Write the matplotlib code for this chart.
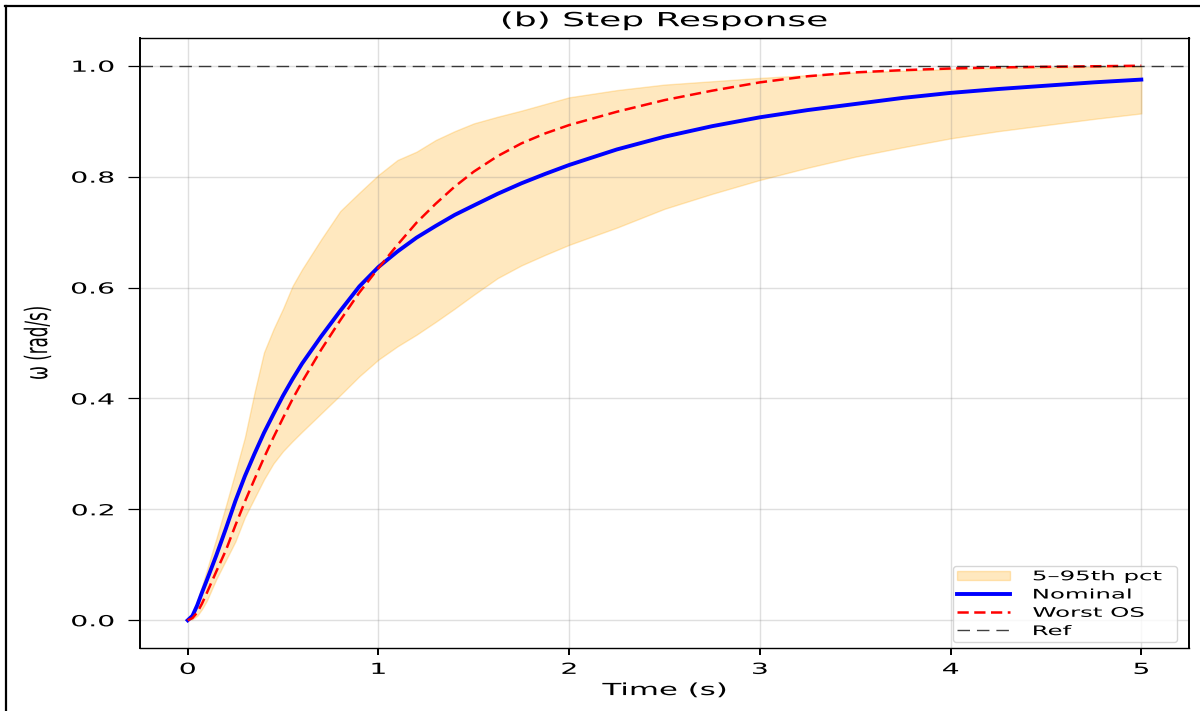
import matplotlib
matplotlib.use("Agg")
import matplotlib.pyplot as plt
from matplotlib.patheffects import AbstractPathEffect
from matplotlib.transforms import Affine2D
from matplotlib.lines import Line2D

# ---------------- data ----------------
time_s = [0.0, 0.025, 0.05, 0.075, 0.1, 0.15, 0.2, 0.25, 0.3, 0.35, 0.4, 0.45,
          0.5, 0.55, 0.6, 0.7, 0.8, 0.9, 1.0, 1.1, 1.2, 1.3, 1.4, 1.5, 1.625,
          1.75, 1.875, 2.0, 2.25, 2.5, 2.75, 3.0, 3.25, 3.5, 3.75, 4.0, 4.25,
          4.5, 4.75, 5.0]
nominal = [0.0, 0.008, 0.027, 0.05, 0.072, 0.117, 0.165, 0.215, 0.26, 0.30,
           0.338, 0.372, 0.405, 0.435, 0.463, 0.512, 0.558, 0.602, 0.637, 0.665,
           0.69, 0.711, 0.731, 0.748, 0.769, 0.788, 0.805, 0.821, 0.849, 0.872,
           0.891, 0.907, 0.92, 0.931, 0.942, 0.951, 0.958, 0.964, 0.97, 0.975]
worst_os = [0.0, 0.004, 0.014, 0.03, 0.049, 0.088, 0.126, 0.171, 0.214, 0.254,
            0.293, 0.33, 0.365, 0.399, 0.43, 0.488, 0.541, 0.591, 0.635, 0.677,
            0.717, 0.751, 0.782, 0.809, 0.837, 0.86, 0.878, 0.893, 0.917, 0.938,
            0.955, 0.970, 0.981, 0.988, 0.992, 0.995, 0.997, 0.998, 0.999, 1.0]
pct05 = [0.0, 0.002, 0.008, 0.02, 0.035, 0.074, 0.108, 0.142, 0.186, 0.22,
         0.254, 0.283, 0.305, 0.323, 0.34, 0.373, 0.406, 0.44, 0.47, 0.494,
         0.515, 0.538, 0.562, 0.587, 0.617, 0.64, 0.659, 0.677, 0.708, 0.742,
         0.769, 0.794, 0.816, 0.836, 0.853, 0.869, 0.882, 0.893, 0.904, 0.914]
pct95 = [0.0, 0.01, 0.035, 0.062, 0.09, 0.147, 0.206, 0.267, 0.33, 0.41,
         0.483, 0.525, 0.562, 0.603, 0.633, 0.687, 0.738, 0.771, 0.803, 0.83,
         0.845, 0.866, 0.882, 0.896, 0.908, 0.919, 0.931, 0.943, 0.956, 0.966,
         0.972, 0.978, 0.983, 0.988, 0.991, 0.994, 0.996, 0.997, 0.998, 0.999]
ref_level = 1.0

x_ticks = [0, 1, 2, 3, 4, 5]
y_ticks = [0.0, 0.2, 0.4, 0.6, 0.8, 1.0]
title_text = "(b) Step Response"
x_label = "Time (s)"
y_label = "ω (rad/s)"
legend_labels = ["5–95th pct", "Nominal", "Worst OS", "Ref"]

# ---------------- text stretch (reference text is horizontally wide) -------
SX = 1.85


class Stretch(AbstractPathEffect):
    def __init__(self, sx=SX, anchor="center"):
        super().__init__()
        self.sx = sx
        self.anchor = anchor

    def draw_path(self, renderer, gc, tpath, affine, rgbFace=None):
        if len(tpath.vertices) == 0:
            return
        bb = tpath.get_extents(affine)
        if self.anchor == "left":
            cx = bb.x0
        elif self.anchor == "right":
            cx = bb.x1
        else:
            cx = 0.5 * (bb.x0 + bb.x1)
        aff = affine + Affine2D().translate(-cx, 0).scale(self.sx, 1).translate(cx, 0)
        renderer.draw_path(gc, tpath, aff, rgbFace)


# ---------------- figure ----------------
fig = plt.figure(figsize=(12, 7.11), dpi=100)
ax = fig.add_axes([140 / 1200, 63 / 711, 1049 / 1200, 610 / 711])

band = ax.fill_between(time_s, pct05, pct95, color="orange", alpha=0.25,
                       label=legend_labels[0])
l_nom, = ax.plot(time_s, nominal, color="blue", lw=2.8, label=legend_labels[1],
                 solid_joinstyle="round")
l_wos, = ax.plot(time_s, worst_os, color="red", lw=1.8, ls=(0, (4.5, 2.2)),
                 label=legend_labels[2])
l_ref = ax.axhline(ref_level, color="black", lw=1.0, ls=(0, (9, 5)), alpha=0.75,
                   label=legend_labels[3])

ax.set_xlim(-0.25, 5.25)
ax.set_ylim(-0.05, 1.05)
ax.set_xticks(x_ticks)
ax.set_yticks(y_ticks)
ax.grid(True, color="gray", alpha=0.25, lw=1.0)

ax.tick_params(axis="x", length=5, width=1.4, pad=5, labelsize=11)
ax.tick_params(axis="y", length=8.6, width=0.9, pad=10, labelsize=11)
for side in ("left", "right"):
    ax.spines[side].set_linewidth(1.4)
for side in ("top", "bottom"):
    ax.spines[side].set_linewidth(1.0)

ax.set_title(title_text, fontsize=14, pad=8.5)
ax.set_xlabel(x_label, fontsize=12, labelpad=3)
ax.set_ylabel(y_label, fontsize=12)
ax.yaxis.set_label_coords(-0.089, 0.5)

leg = ax.legend(handles=[band, l_nom, l_wos, l_ref], labels=legend_labels,
                loc="lower left", bbox_to_anchor=(0.775, 0.0098, 0.2135, 0.2),
                mode="expand", borderaxespad=0, fontsize=9.5, handlelength=4.0,
                handletextpad=1.75, labelspacing=0.4, borderpad=0.3,
                framealpha=0.8)

for t in ax.get_xticklabels():
    t.set_path_effects([Stretch(anchor="center")])
for t in ax.get_yticklabels():
    t.set_path_effects([Stretch(anchor="right")])
ax.title.set_path_effects([Stretch(anchor="center")])
ax.xaxis.label.set_path_effects([Stretch(anchor="center")])
ax.yaxis.label.set_path_effects([Stretch(anchor="center")])
for t in leg.get_texts():
    t.set_path_effects([Stretch(anchor="left")])

# screenshot frame lines (top and left)
fig.add_artist(Line2D([5 / 1200, 1.0], [1 - 6 / 711, 1 - 6 / 711],
                      transform=fig.transFigure, color="black", lw=1.6))
fig.add_artist(Line2D([6 / 1200, 6 / 1200], [0.0, 1 - 6 / 711],
                      transform=fig.transFigure, color="black", lw=1.6))

fig.savefig("out.png", dpi=100)
